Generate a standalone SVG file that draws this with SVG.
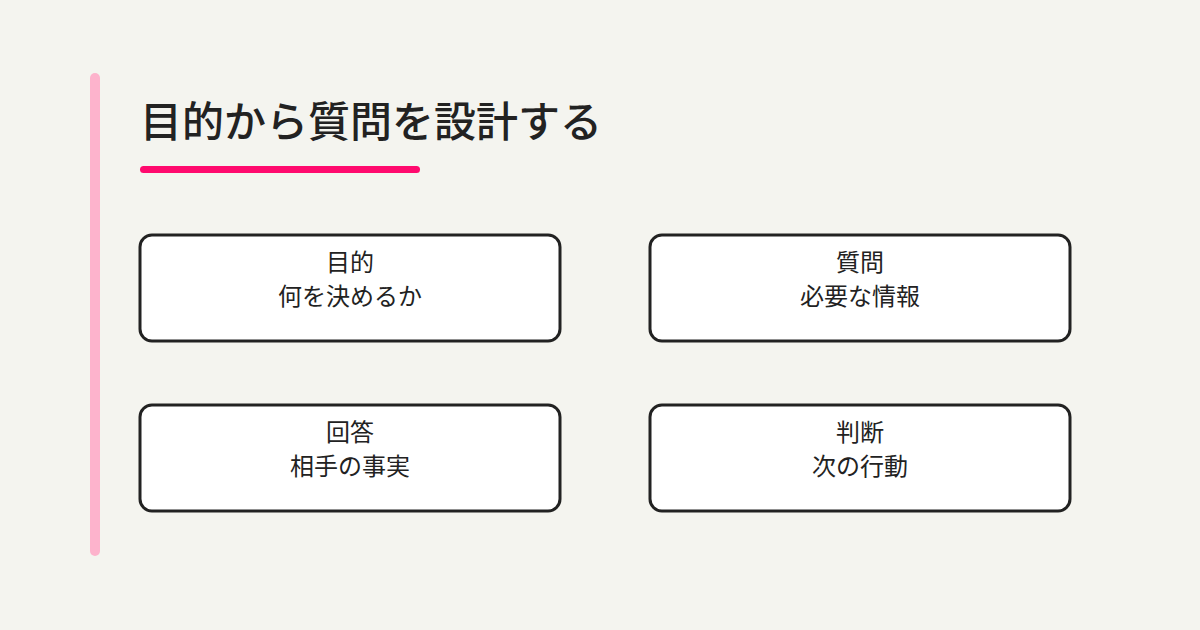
<svg xmlns="http://www.w3.org/2000/svg" width="1200" height="630" viewBox="0 0 1200 630">
<style>
.box{fill:#ffffff;stroke:#222222;stroke-width:3}
.lbl{font-family:"Noto Sans CJK JP","Noto Sans",sans-serif;font-size:24px;font-weight:400;fill:#222222;text-anchor:middle}
.title{font-family:"Noto Sans CJK JP","Noto Sans",sans-serif;font-size:42px;font-weight:500;fill:#222222}
</style>
<rect x="0" y="0" width="1200" height="630" fill="#f4f4ef"/>
<rect x="90" y="73" width="10" height="483" rx="5" fill="#fdb3cc"/>
<text class="title" x="140" y="137">目的から質問を設計する</text>
<rect x="140" y="166" width="280" height="7" rx="3.5" fill="#ff0a6e"/>
<g id="connectors"></g>
<g id="node-purpose">
<rect class="box" x="140" y="235" width="420" height="106" rx="12"/>
<text class="lbl" x="350" y="271">目的</text>
<text class="lbl" x="350" y="305">何を決めるか</text>
</g>
<g id="node-question">
<rect class="box" x="650" y="235" width="420" height="106" rx="12"/>
<text class="lbl" x="860" y="271">質問</text>
<text class="lbl" x="860" y="305">必要な情報</text>
</g>
<g id="node-answer">
<rect class="box" x="140" y="405" width="420" height="106" rx="12"/>
<text class="lbl" x="350" y="441">回答</text>
<text class="lbl" x="350" y="475">相手の事実</text>
</g>
<g id="node-judgement">
<rect class="box" x="650" y="405" width="420" height="106" rx="12"/>
<text class="lbl" x="860" y="441">判断</text>
<text class="lbl" x="860" y="475">次の行動</text>
</g>
</svg>
